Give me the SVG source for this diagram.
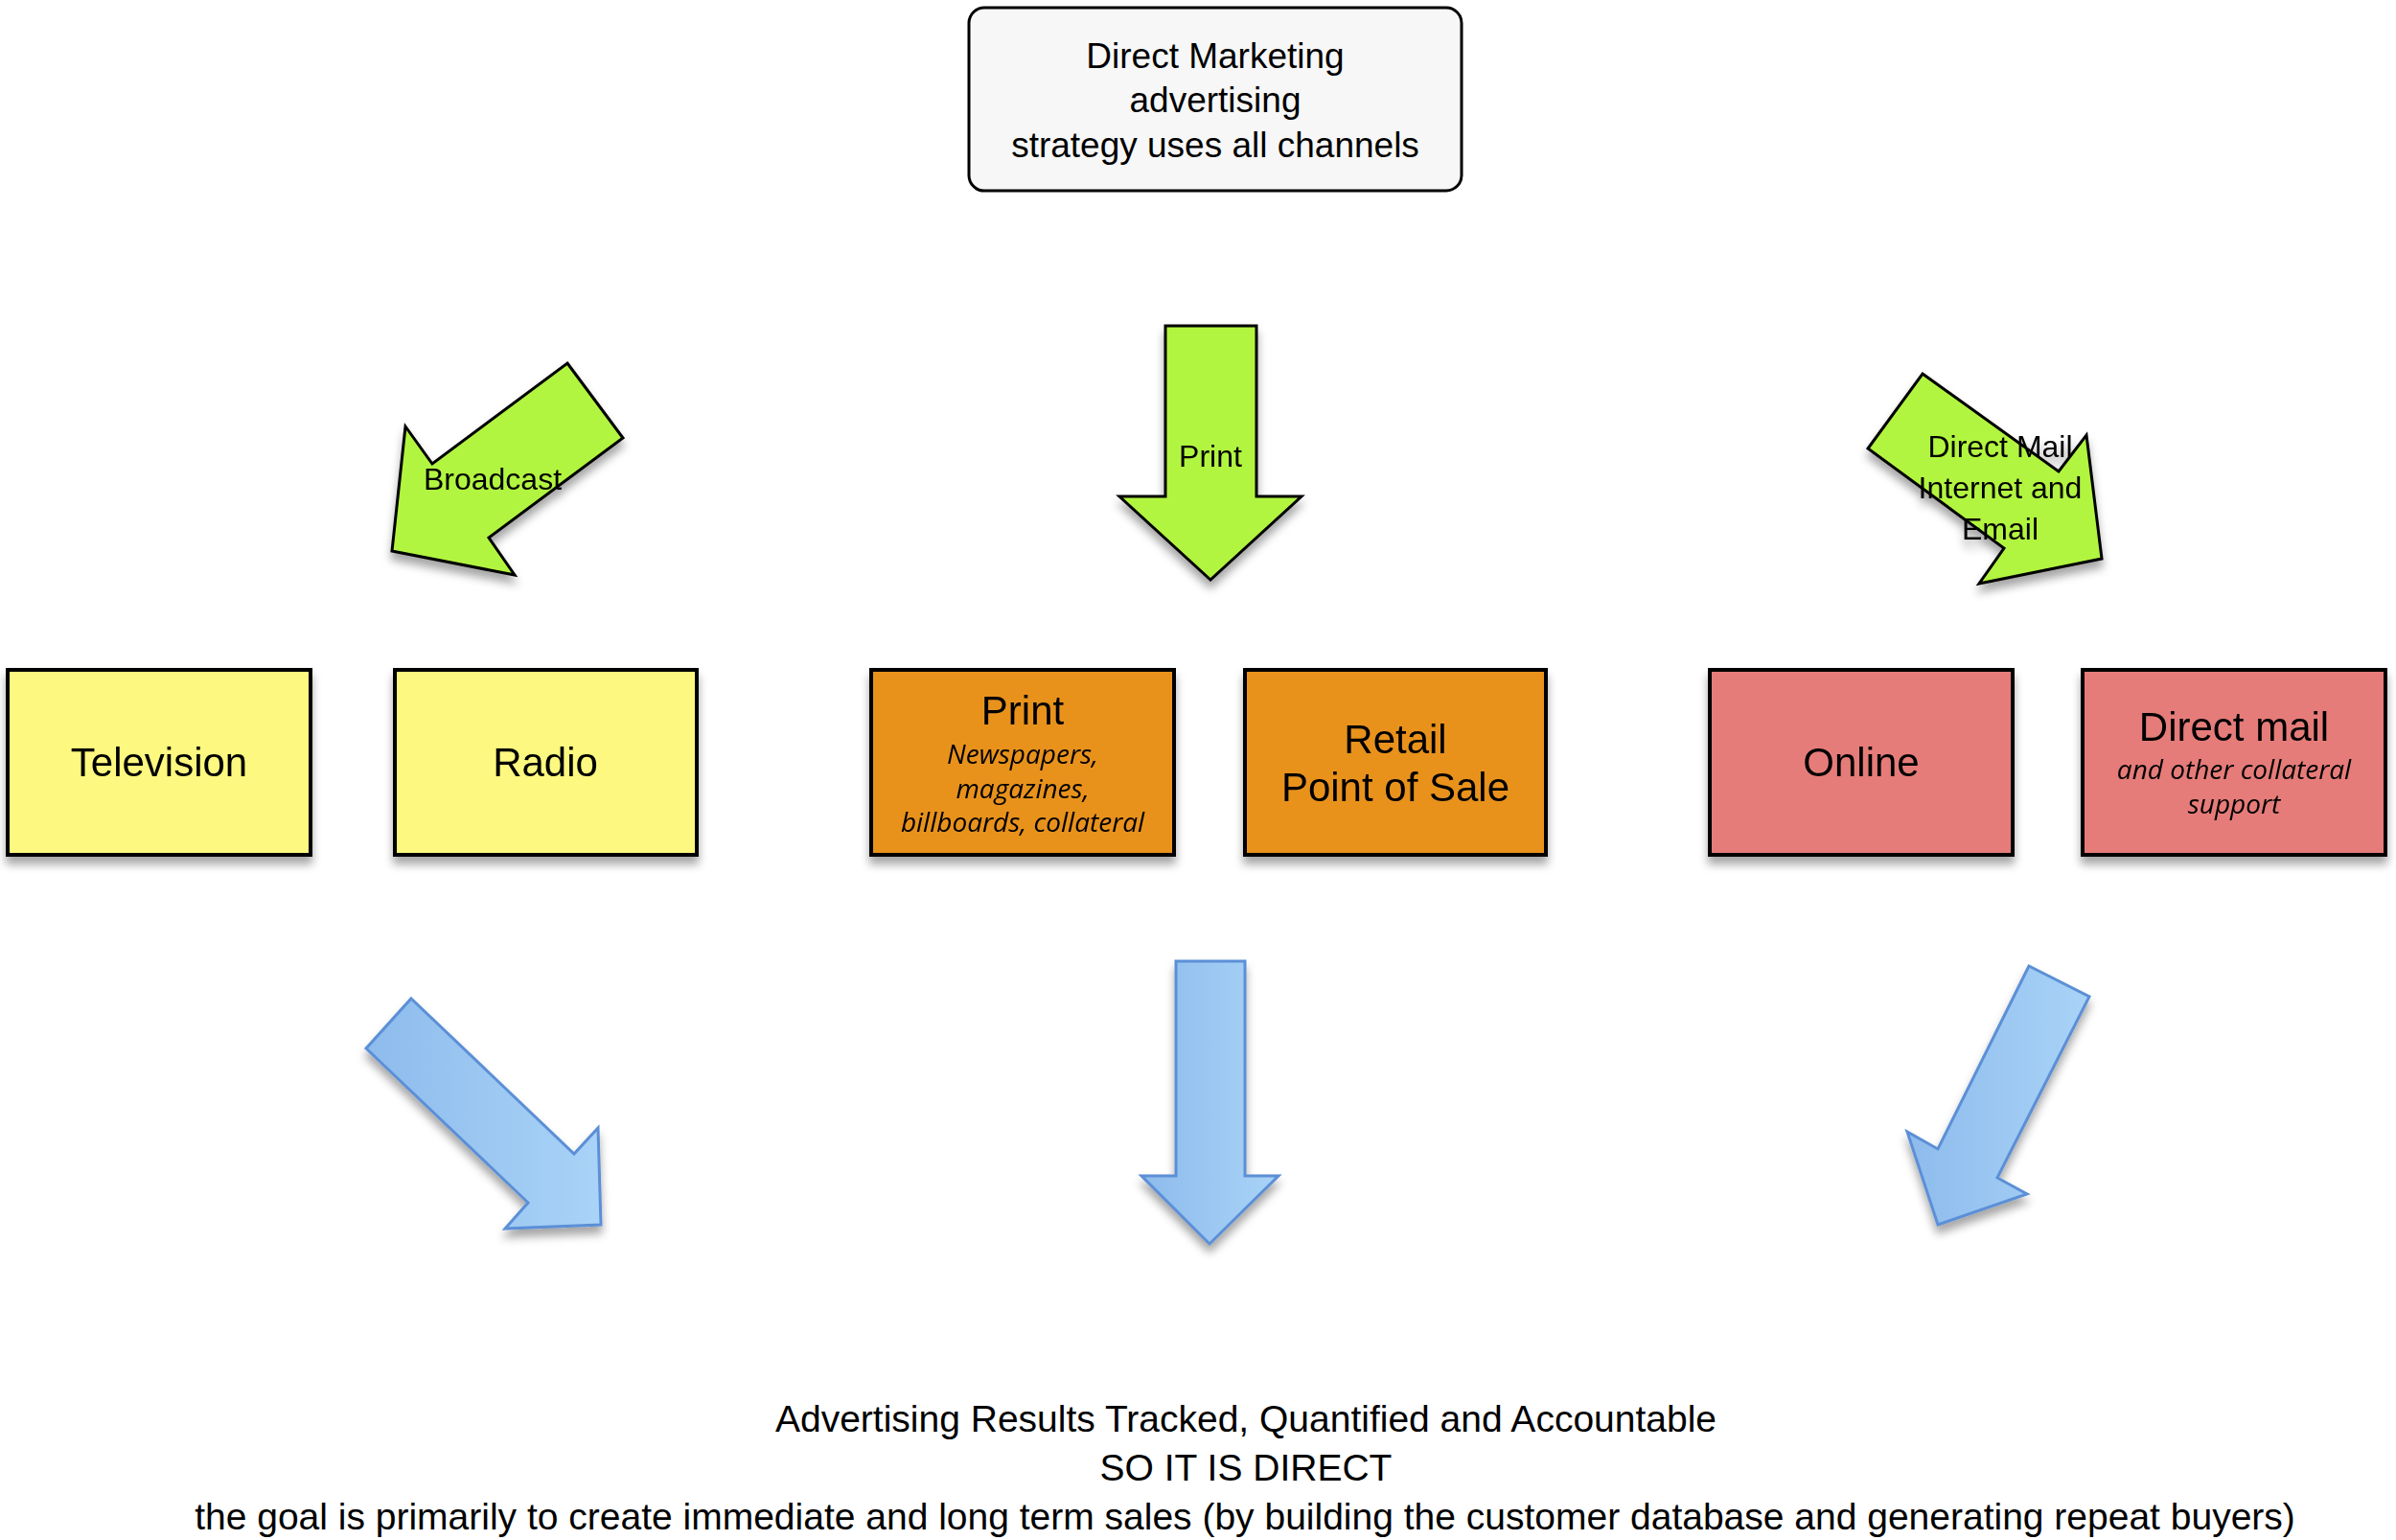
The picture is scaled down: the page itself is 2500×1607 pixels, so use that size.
<svg xmlns="http://www.w3.org/2000/svg" width="2500" height="1607" viewBox="0 0 2500 1607">
<style>
.t{font-family:"Liberation Sans",Arial,sans-serif;fill:#000;text-anchor:middle}
.i{font-family:"Open Sans","Liberation Sans",sans-serif;font-style:italic;fill:#000;text-anchor:middle;font-size:28px}
.box{stroke:#000;stroke-width:4}
.g{fill:#b2f53f;stroke:#000;stroke-width:3;stroke-linejoin:miter}
.b{fill:url(#bl);stroke:#5b8fd6;stroke-width:3}
</style>
<defs>
<filter id="sh" x="-10%" y="-10%" width="120%" height="130%"><feDropShadow dx="0" dy="8" stdDeviation="5" flood-color="#000" flood-opacity="0.35"/></filter>
<linearGradient id="bl" x1="0" y1="0" x2="1" y2="0"><stop offset="0" stop-color="#8dbbec"/><stop offset="1" stop-color="#a9d3f7"/></linearGradient>
</defs>
<g id="top"><rect x="1011" y="8" width="514" height="191" rx="16" fill="#f7f7f7" stroke="#000" stroke-width="3"/>
<text class="t" font-size="37" x="1268" y="71">Direct Marketing</text>
<text class="t" font-size="37" x="1268" y="117">advertising</text>
<text class="t" font-size="37" x="1268" y="164">strategy uses all channels</text></g>
<g id="connectors">
<g id="arrow-broadcast" filter="url(#sh)"><polygon class="g" points="592,379 650,457 510,561 537,600 409,575 423,445 451,484"/><text class="t" font-size="32" x="514" y="511">Broadcast</text></g>
<g id="arrow-print" filter="url(#sh)"><polygon class="g" points="1216,340 1311,340 1311,518 1358,518 1263,605 1168,518 1216,518"/><text class="t" font-size="32" x="1263" y="487">Print</text></g>
<g id="arrow-direct" filter="url(#sh)"><polygon class="g" points="2006,390 2148,492 2177,454 2193,583 2065,609 2091,572 1949,468"/>
<text class="t" font-size="32" x="2087" y="477">Direct Mail</text><text class="t" font-size="32" x="2087" y="520">Internet and</text><text class="t" font-size="32" x="2087" y="563">Email</text></g>
<g filter="url(#sh)">
<polygon class="b" points="429,1042 599,1204 624,1177 627,1278 527,1282 551,1255 382,1094"/>
<polygon class="b" points="1227,1003 1299,1003 1299,1227 1334,1227 1262,1298 1191,1227 1227,1227"/>
<polygon class="b" points="2117,1008 2180,1040 2084,1229 2115,1246 2022,1278 1990,1181 2022,1199"/>
</g>
</g>
<g id="television" filter="url(#sh)"><rect class="box" x="8" y="699" width="316" height="193" fill="#fdf87f"/><text class="t" font-size="42" x="166" y="810">Television</text></g>
<g id="radio" filter="url(#sh)"><rect class="box" x="412" y="699" width="315" height="193" fill="#fdf87f"/><text class="t" font-size="42" x="569" y="810">Radio</text></g>
<g id="print" filter="url(#sh)"><rect class="box" x="909" y="699" width="316" height="193" fill="#e8921f"/><text class="t" font-size="42" x="1067" y="756">Print</text>
<text class="i" x="1067" y="797">Newspapers,</text><text class="i" x="1067" y="833">magazines,</text><text class="i" x="1067" y="868">billboards, collateral</text></g>
<g id="retail" filter="url(#sh)"><rect class="box" x="1299" y="699" width="314" height="193" fill="#e8921f"/><text class="t" font-size="42" x="1456" y="786">Retail</text><text class="t" font-size="42" x="1456" y="836">Point of Sale</text></g>
<g id="online" filter="url(#sh)"><rect class="box" x="1784" y="699" width="316" height="193" fill="#e57c79"/><text class="t" font-size="42" x="1942" y="810">Online</text></g>
<g id="directmail" filter="url(#sh)"><rect class="box" x="2173" y="699" width="316" height="193" fill="#e57c79"/><text class="t" font-size="42" x="2331" y="773">Direct mail</text>
<text class="i" x="2331" y="813">and other collateral</text><text class="i" x="2331" y="849">support</text></g>
<g id="result">
<text class="t" font-size="39" x="1300" y="1494">Advertising Results Tracked, Quantified and Accountable</text>
<text class="t" font-size="39" x="1300" y="1545">SO IT IS DIRECT</text>
<text class="t" font-size="39" x="1299" y="1596">the goal is primarily to create immediate and long term sales (by building the customer database and generating repeat buyers)</text>
</g>
</svg>
